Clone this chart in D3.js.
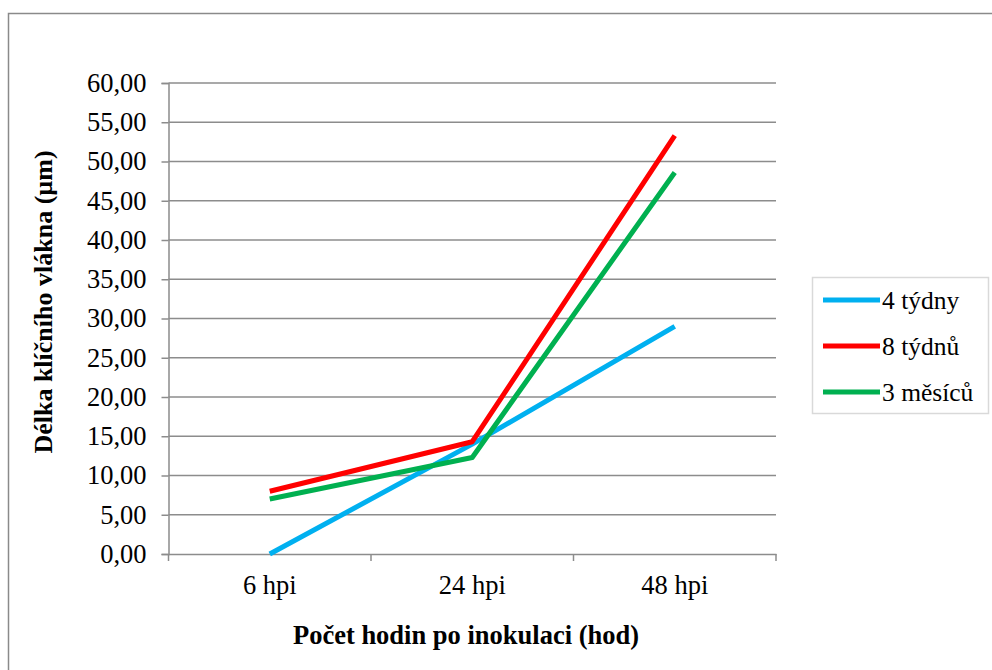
<!DOCTYPE html>
<html>
<head>
<meta charset="utf-8">
<script src="https://cdn.jsdelivr.net/npm/d3@7"></script>
<style>
  html, body { margin: 0; padding: 0; background: #fff; }
  svg text { font-family: "Liberation Serif", Tinos, "Times New Roman", Times, "DejaVu Serif", serif !important; }
</style>
</head>
<body>
<svg id="chart" width="992" height="670"></svg>
<script>
// Categories on the x axis (hours post inoculation)
const categories = ["6 hpi", "24 hpi", "48 hpi"];

// Germ tube length (µm) per culture age
const seriesNames = ["4 týdny", "8 týdnů", "3 měsíců"];
const values4tydny = [0.0, 14.0, 29.0];
const values8tydnu = [8.0, 14.3, 53.3];
const values3mesicu = [7.0, 12.3, 48.6];
const seriesColors = ["#00B0F0", "#FF0000", "#00B050"];

// Y axis ticks
const yTicks = [0, 5, 10, 15, 20, 25, 30, 35, 40, 45, 50, 55, 60];

const yTitle = "Délka klíčního vlákna (µm)";
const xTitle = "Počet hodin po inokulaci (hod)";

const series = [values4tydny, values8tydnu, values3mesicu].map((v, i) => ({
  name: seriesNames[i], color: seriesColors[i], values: v
}));

const svg = d3.select("#chart");
const fmt = d => d.toFixed(2).replace(".", ",");

// Outer chart frame
svg.append("rect")
  .attr("x", 8.5).attr("y", 13.5)
  .attr("width", 990).attr("height", 670)
  .attr("fill", "none").attr("stroke", "#8a8a8a").attr("stroke-width", 1.5);

const plot = { left: 168.5, right: 776, top: 83, bottom: 554 };

const x = d3.scaleBand().domain(categories).range([plot.left, plot.right]).padding(0);
const y = d3.scaleLinear().domain([0, 60]).range([plot.bottom, plot.top]);

// Horizontal gridlines
svg.append("g")
  .selectAll("line")
  .data(yTicks.filter(t => t > 0))
  .join("line")
  .attr("x1", plot.left).attr("x2", plot.right)
  .attr("y1", d => y(d)).attr("y2", d => y(d))
  .attr("stroke", "#8c8c8c").attr("stroke-width", 1.5);

// Y axis
const yAxis = svg.append("g")
  .attr("transform", `translate(${plot.left},0)`)
  .call(d3.axisLeft(y).tickValues(yTicks).tickFormat(fmt).tickSize(7).tickPadding(15));
yAxis.select(".domain").attr("stroke", "#8c8c8c").attr("stroke-width", 1.5);
yAxis.selectAll(".tick line").attr("stroke", "#8c8c8c").attr("stroke-width", 1.5);
yAxis.selectAll(".tick text")
  .attr("font-size", 26.5).attr("fill", "#000");

// X axis: ticks sit on the category boundaries
const xAxis = svg.append("g")
  .attr("transform", `translate(0,${plot.bottom})`)
  .call(d3.axisBottom(x).tickSize(0).tickPadding(21));
xAxis.select(".domain").attr("stroke", "#8c8c8c").attr("stroke-width", 1.5);
xAxis.selectAll(".tick text")
  .attr("font-size", 26.5).attr("fill", "#000");

const boundaries = categories.map(c => x(c)).concat([x(categories[categories.length - 1]) + x.bandwidth()]);
svg.append("g")
  .selectAll("line")
  .data(boundaries)
  .join("line")
  .attr("x1", d => d).attr("x2", d => d)
  .attr("y1", plot.bottom).attr("y2", plot.bottom + 7)
  .attr("stroke", "#8c8c8c").attr("stroke-width", 1.5);

// Series lines
const line = d3.line()
  .x((d, i) => x(categories[i]) + x.bandwidth() / 2)
  .y(d => y(d));

svg.append("g")
  .selectAll("path")
  .data(series)
  .join("path")
  .attr("d", d => line(d.values))
  .attr("fill", "none")
  .attr("stroke", d => d.color)
  .attr("stroke-width", 5)
  .attr("stroke-linejoin", "round");

// Axis titles
svg.append("text")
  .attr("x", 466).attr("y", 644)
  .attr("text-anchor", "middle")
  .attr("font-weight", "bold").attr("font-size", 26.5)
  .text(xTitle);

svg.append("text")
  .attr("transform", "translate(52,302) rotate(-90)")
  .attr("text-anchor", "middle")
  .attr("font-weight", "bold").attr("font-size", 26)
  .text(yTitle);

// Legend
const legend = svg.append("g");
legend.append("rect")
  .attr("x", 812.5).attr("y", 277.5)
  .attr("width", 176).attr("height", 136)
  .attr("fill", "#fff").attr("stroke", "#d9d9d9").attr("stroke-width", 1.5);

const items = legend.selectAll("g.item")
  .data(series)
  .join("g")
  .attr("class", "item")
  .attr("transform", (d, i) => `translate(823,${300 + i * 46})`);
items.append("line")
  .attr("x1", 0).attr("x2", 57)
  .attr("stroke", d => d.color).attr("stroke-width", 5);
items.append("text")
  .attr("x", 59).attr("y", 0)
  .attr("dominant-baseline", "central")
  .attr("font-size", 25.5)
  .text(d => d.name);
</script>
</body>
</html>
